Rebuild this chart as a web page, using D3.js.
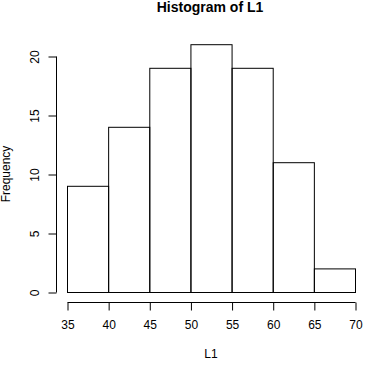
<!DOCTYPE html>
<html><head><meta charset="utf-8">
<script src="https://cdn.jsdelivr.net/npm/d3@7"></script>
<style>body{margin:0;background:#fff}svg{display:block}text{font-family:"Liberation Sans",Arial,sans-serif;fill:#000}</style>
</head><body>
<script>
const binStarts = [35, 40, 45, 50, 55, 60, 65];
const binWidth = 5;
const counts = [9, 14, 19, 21, 19, 11, 2];
const xTicks = [35, 40, 45, 50, 55, 60, 65, 70];
const yTicks = [0, 5, 10, 15, 20];
const title = "Histogram of L1";
const xLabel = "L1";
const yLabel = "Frequency";

const W = 371, H = 368;
const svg = d3.select("body").append("svg").attr("width", W).attr("height", H);
const x = d3.scaleLinear().domain([35, 70]).range([67.5, 355.5]);
const y = d3.scaleLinear().domain([0, 20]).range([292.5, 56.5]);

svg.append("g").selectAll("rect").data(counts).join("rect")
  .attr("x", (d, i) => x(binStarts[i]))
  .attr("y", d => y(d))
  .attr("width", (d, i) => x(binStarts[i] + binWidth) - x(binStarts[i]))
  .attr("height", d => y(0) - y(d))
  .attr("fill", "none").attr("stroke", "#000").attr("stroke-width", 1);

const xAxis = svg.append("g").attr("transform", "translate(0,302.5)")
  .call(d3.axisBottom(x).tickValues(xTicks).tickSize(8).tickPadding(6).tickFormat(d3.format("d")));
const yAxis = svg.append("g").attr("transform", "translate(56.5,0)")
  .call(d3.axisLeft(y).tickValues(yTicks).tickSize(8).tickPadding(6).tickFormat(d3.format("d")));
[xAxis, yAxis].forEach(a => {
  a.select(".domain").attr("stroke", "#000");
  a.selectAll(".tick line").attr("stroke", "#000");
  a.selectAll("text").attr("font-size", 12).attr("font-family", "Liberation Sans, Arial, sans-serif").attr("fill", "#000");
});
xAxis.select(".domain").attr("d", `M${x(35)},0H${x(70)}`);
yAxis.select(".domain").attr("d", `M0,${y(0)}V${y(20)}`);
xAxis.selectAll(".tick text").attr("dy", 0).attr("y", 26.5);
yAxis.selectAll(".tick text")
  .attr("x", 0).attr("dy", 0)
  .attr("text-anchor", "middle")
  .attr("transform", "translate(-18,0) rotate(-90)");

svg.append("text").attr("x", 210).attr("y", 12).attr("text-anchor", "middle")
  .attr("font-size", 14).attr("font-weight", "bold").text(title);
svg.append("text").attr("x", 211).attr("y", 358).attr("text-anchor", "middle")
  .attr("font-size", 12).text(xLabel);
svg.append("text").attr("transform", "translate(10,174) rotate(-90)").attr("text-anchor", "middle")
  .attr("font-size", 12).text(yLabel);
</script>
</body></html>
